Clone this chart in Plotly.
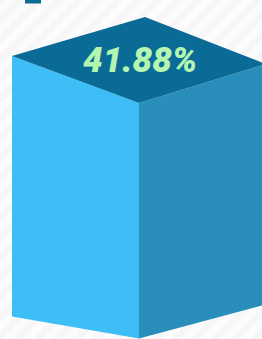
import plotly.graph_objects as go

# ---- data ----
categories = ["Share"]
values = [41.88]
labels = ["41.88%"]

# ---- style ----
W, H = 262, 339
Y_RANGE = [-0.09, 60.2]
X_RANGE = [-139, 123]
HALF_L, HALF_R = 127, 127
TOP_DX = 6
RISE_L, RISE_R, RISE_T = 8.36, 6.94, 15.29
BASE_L, BASE_R = 3.91, 6.05
C_TOP, C_LEFT, C_RIGHT = "#0a6b97", "#3dbef6", "#2a8ebc"
C_TEXT = "#b4f5b0"

fig = go.Figure()

# striped background
fig.add_trace(go.Scatter(
    x=[X_RANGE[0] - 5, X_RANGE[1] + 5, X_RANGE[1] + 5, X_RANGE[0] - 5],
    y=[Y_RANGE[0] - 1, Y_RANGE[0] - 1, Y_RANGE[1] + 1, Y_RANGE[1] + 1],
    fill="toself", mode="none", hoverinfo="skip", showlegend=False,
    fillcolor="#ffffff",
    fillpattern=dict(shape="/", bgcolor="#fcfcfc", fgcolor="#efefef",
                     size=14, solidity=0.45),
))

for i, (cat, v, lab) in enumerate(zip(categories, values, labels)):
    x0 = i
    # left face
    fig.add_trace(go.Scatter(
        x=[x0 - HALF_L, x0, x0, x0 - HALF_L],
        y=[v + RISE_L, v, 0, BASE_L],
        fill="toself", mode="none", fillcolor=C_LEFT, showlegend=False,
        name=cat))
    # right face
    fig.add_trace(go.Scatter(
        x=[x0, x0 + HALF_R, x0 + HALF_R, x0],
        y=[v, v + RISE_R, BASE_R, 0],
        fill="toself", mode="none", fillcolor=C_RIGHT, showlegend=False,
        name=cat))
    # top face
    fig.add_trace(go.Scatter(
        x=[x0 - HALF_L, x0, x0 + HALF_R, x0 + TOP_DX],
        y=[v + RISE_L, v, v + RISE_R, v + RISE_T],
        fill="toself", mode="none", fillcolor=C_TOP, showlegend=False,
        name=cat))
    fig.add_annotation(
        x=x0 + 1, y=v + 7.5, text=lab, showarrow=False,
        font=dict(family="Roboto", size=35, color=C_TEXT, weight=900,
                  style="italic"),
        xanchor="center", yanchor="middle")

# partial header mark at top
fig.add_shape(type="rect", xref="paper", yref="paper",
              x0=25 / W, x1=41 / W, y0=1 - 3.5 / H, y1=1.01,
              fillcolor=C_TOP, line=dict(width=0))

fig.update_layout(
    width=W, height=H, margin=dict(l=0, r=0, t=0, b=0),
    paper_bgcolor="#ffffff", plot_bgcolor="#ffffff",
    xaxis=dict(range=X_RANGE, visible=False, fixedrange=True),
    yaxis=dict(range=Y_RANGE, visible=False, fixedrange=True),
    showlegend=False,
)

fig.write_html("out.html", config={"displayModeBar": False},
               post_script="document.body.style.margin='0px';document.body.style.overflow='hidden';")
